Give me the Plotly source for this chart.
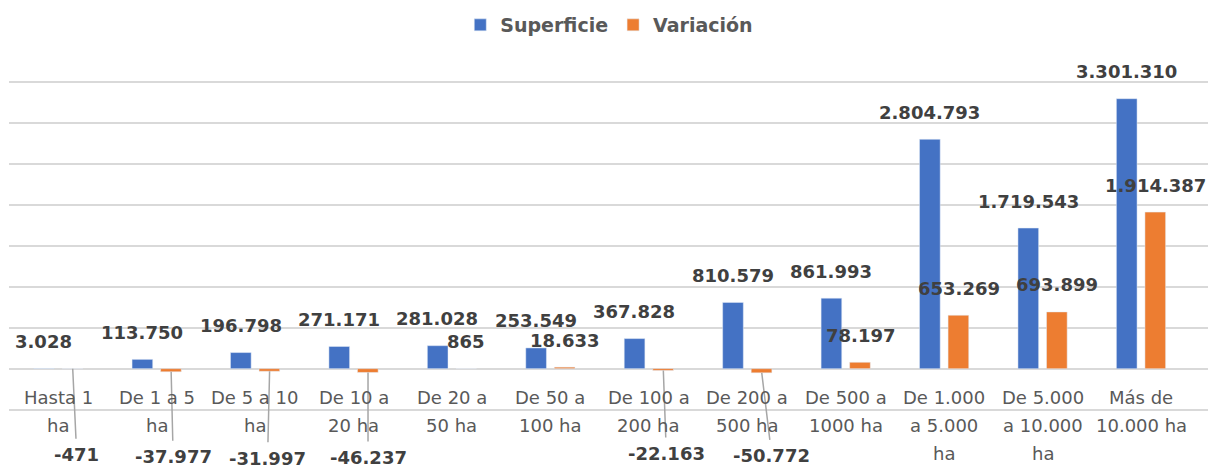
import plotly.graph_objects as go

categories = ["Hasta 1<br>ha", "De 1 a 5<br>ha", "De 5 a 10<br>ha", "De 10 a<br>20 ha",
              "De 20 a<br>50 ha", "De 50 a<br>100 ha", "De 100 a<br>200 ha", "De 200 a<br>500 ha",
              "De 500 a<br>1000 ha", "De 1.000<br>a 5.000<br>ha", "De 5.000<br>a 10.000<br>ha",
              "Más de<br>10.000 ha"]
superficie = [3028, 113750, 196798, 271171, 281028, 253549, 367828, 810579, 861993,
              2804793, 1719543, 3301310]
variacion = [-471, -37977, -31997, -46237, 865, 18633, -22163, -50772, 78197,
             653269, 693899, 1914387]

# style: pixel offsets of the moved negative labels (leader lines)
neg_dx = {0: 4, 1: 2, 2: -2, 3: 0, 6: 3, 7: 10}
neg_dy = {0: 86, 1: 85, 2: 87, 3: 85, 6: 83, 7: 83}

BLUE = "#4472C4"
ORANGE = "#ED7D31"
FONT = "DejaVu Sans"
SHIFT = 14.5


def fmt(v):
    return f"{v:,}".replace(",", ".")


fig = go.Figure()
fig.add_trace(go.Bar(name="Superficie", x=categories, y=superficie, marker_color=BLUE))
fig.add_trace(go.Bar(name="Variación", x=categories, y=variacion, marker_color=ORANGE))

ann = []
for i, c in enumerate(categories):
    ann.append(dict(x=c, y=superficie[i], xref="x", yref="y", text=fmt(superficie[i]),
                    showarrow=False, xshift=-SHIFT, yshift=27, yanchor="middle",
                    font=dict(family=FONT, size=18, color="#404040", weight="bold")))
    v = variacion[i]
    if v >= 0:
        ann.append(dict(x=c, y=v, xref="x", yref="y", text=fmt(v),
                        showarrow=False, xshift=SHIFT, yshift=27, yanchor="middle",
                        font=dict(family=FONT, size=18, color="#404040", weight="bold")))
    else:
        ann.append(dict(x=c, y=v, xref="x", yref="y", text=fmt(v),
                        showarrow=True, arrowhead=0, arrowwidth=1.5, arrowcolor="#a6a6a6",
                        ax=neg_dx.get(i, 0), ay=neg_dy.get(i, 85), startstandoff=4,
                        xshift=SHIFT, xanchor="center", yanchor="middle",
                        font=dict(family=FONT, size=18, color="#404040", weight="bold")))
    for j, line in enumerate(c.split("<br>")):
        ann.append(dict(x=c, y=0, xref="x", yref="y", text=line, showarrow=False,
                        yshift=-29 - 28 * j, yanchor="middle",
                        font=dict(family=FONT, size=18, color="#595959")))

fig.update_layout(
    width=1221, height=468,
    margin=dict(l=9, r=13, t=80, b=56, autoexpand=False),
    plot_bgcolor="white", paper_bgcolor="white",
    barmode="group", bargap=0.42, bargroupgap=0.276,
    showlegend=True,
    legend=dict(orientation="h", xref="container", yref="container", x=0.499, y=1 - 25 / 468,
                xanchor="center", yanchor="middle",
                font=dict(family=FONT, size=19, color="#595959", weight="bold")),
    annotations=ann,
    xaxis=dict(showticklabels=False, showgrid=False, zeroline=False, showline=False, ticks=""),
    yaxis=dict(range=[-530000, 3530000], dtick=500000, showticklabels=False, showgrid=True,
               gridcolor="#d9d9d9", gridwidth=2, zeroline=True, zerolinecolor="#d9d9d9",
               zerolinewidth=2, showline=False, ticks=""),
)

fig.write_html("out.html", config={"displayModeBar": False},
               post_script="document.body.style.margin='0';document.body.style.overflow='hidden';")
